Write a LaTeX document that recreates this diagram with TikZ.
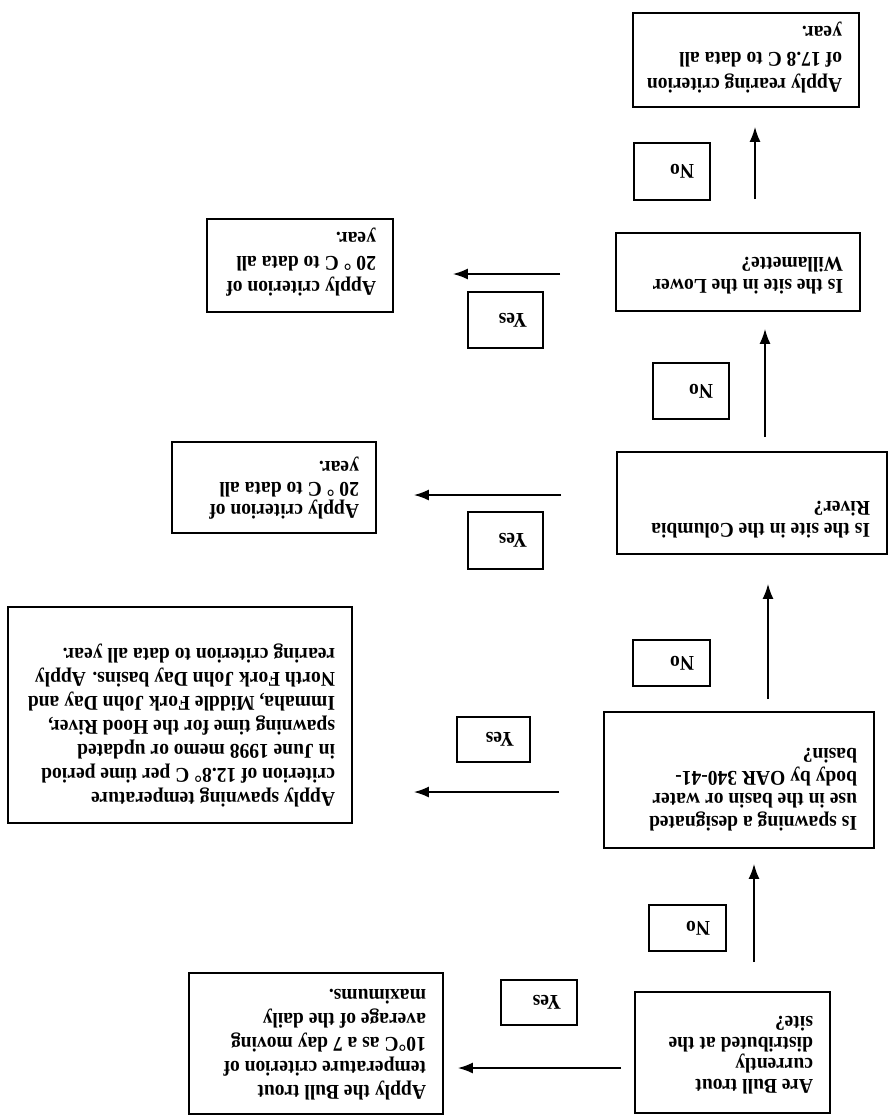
\documentclass[tikz,border=0pt]{standalone}
\usepackage{fontspec}
\setmainfont{Liberation Serif}
\newfontfamily\scanfont{Liberation Serif}[FakeStretch=0.93]
\usetikzlibrary{arrows.meta}
% #1 width, #2 height, #3 baselineskip, #4 distance of first cap top from edge, #5 lines
\newcommand\bt[5]{\parbox[c][#2][t]{#1}{\fontsize{21pt}{#3}\selectfont
  \vspace*{\dimexpr #4-#3*7/10+13.9pt\relax}%
  \begin{tabular}[t]{@{}l@{}}#5\end{tabular}}}
\newcommand\lt[2]{\parbox{#1}{#2}}
\tikzset{
  qbox/.style={draw, line width=1.7pt, rotate=180, inner xsep=17pt, inner ysep=0pt,
    font=\scanfont\bfseries\fontsize{21pt}{24pt}\selectfont},
  lbox/.style={draw, line width=1.7pt, rotate=180, inner xsep=16pt, inner ysep=0pt,
    font=\scanfont\bfseries\fontsize{21pt}{24pt}\selectfont},
  arr/.style={line width=1.8pt, -{Latex[length=15pt,width=11pt]}}
}
\begin{document}
\begin{tikzpicture}[x=1pt,y=-1pt]
\useasboundingbox[fill=white] (0,0) rectangle (889,1117);
% main boxes
\node[qbox] (bull) at (732.5,1052.5) {\bt{161pt}{121pt}{21pt}{20pt}{Are Bull trout\\currently\\distributed at the\\site?}};
\node[qbox] (bcrit) at (316,1043.5) {\bt{220pt}{141pt}{24pt}{15pt}{Apply the Bull trout\\temperature criterion of\\10°C as a 7 day moving\\average of the daily\\maximums.}};
\node[qbox] (spawn) at (739,780) {\bt{236pt}{136pt}{22.5pt}{18pt}{Is spawning a designated\\use in the basin or water\\body by OAR 340-41-\\basin?}};
\node[qbox] (scrit) at (180,715) {\bt{310pt}{216pt}{24pt}{17pt}{Apply spawning temperature\\criterion of 12.8° C per time period\\in June 1998 memo or updated\\spawning time for the Hood River,\\Immaha, Middle Fork John Day and\\North Fork John Day basins. Apply\\rearing criterion to data all year.}};
\node[qbox] (col) at (752,503) {\bt{236pt}{102pt}{22pt}{17pt}{Is the site in the Columbia\\River?}};
\node[qbox] (ccrit) at (274,487.5) {\bt{170pt}{91pt}{21.5pt}{15pt}{Apply criterion of\\20 ° C to data all\\year.}};
\node[qbox] (low) at (738,272) {\bt{210pt}{78pt}{22pt}{18pt}{Is the site in the Lower\\Willamette?}};
\node[qbox] (lcrit) at (300,265.5) {\bt{152pt}{93pt}{24.5pt}{17pt}{Apply criterion of\\20 ° C to data all\\year.}};
\node[qbox] (rear) at (746,60) {\bt{192pt}{94pt}{26pt}{15pt}{Apply rearing criterion\\of 17.8 C to data all\\year.}};
% labels
\node[lbox, minimum height=46pt] (no1) at (687.5,928) {\lt{45pt}{No}};
\node[lbox, minimum height=45pt] (yes1) at (539,1002.5) {\lt{44pt}{Yes}};
\node[lbox, minimum height=46pt] (no2) at (671.5,663) {\lt{45pt}{No}};
\node[lbox, minimum height=45pt] (yes2) at (493.5,739.5) {\lt{41pt}{Yes}};
\node[lbox, minimum height=56pt] (no3) at (691,391) {\lt{44pt}{No}};
\node[lbox, minimum height=57pt] (yes3) at (505.5,540.5) {\lt{43pt}{Yes}};
\node[lbox, minimum height=57pt] (no4) at (672,171.5) {\lt{44pt}{No}};
\node[lbox, minimum height=56pt] (yes4) at (505.5,320) {\lt{43pt}{Yes}};
% vertical "No" connectors
\draw[arr, shorten <=29pt, shorten >=15pt] ([xshift=21.5pt]bull.south) -- ([xshift=21.5pt]bull.south |- spawn.north);
\draw[arr, shorten <=12pt, shorten >=29pt] ([xshift=29pt]spawn.south) -- ([xshift=29pt]spawn.south |- col.north);
\draw[arr, shorten <=14pt, shorten >=17pt] ([xshift=13pt]col.south) -- ([xshift=13pt]col.south |- low.north);
\draw[arr, shorten <=33pt, shorten >=19pt] ([xshift=17pt]low.south) -- ([xshift=17pt]low.south |- rear.north);
% horizontal "Yes" connectors
\draw[arr, shorten <=13pt, shorten >=14pt] ([yshift=-15.5pt]bull.east) -- ([yshift=-15.5pt]bull.east -| bcrit.west);
\draw[arr, shorten <=44pt, shorten >=61pt] ([yshift=-12pt]spawn.east) -- ([yshift=-12pt]spawn.east -| scrit.west);
\draw[arr, shorten <=55pt, shorten >=37pt] ([yshift=8pt]col.east) -- ([yshift=8pt]col.east -| ccrit.west);
\draw[arr, shorten <=55pt, shorten >=59pt] ([yshift=-2pt]low.east) -- ([yshift=-2pt]low.east -| lcrit.west);
\end{tikzpicture}
\end{document}
